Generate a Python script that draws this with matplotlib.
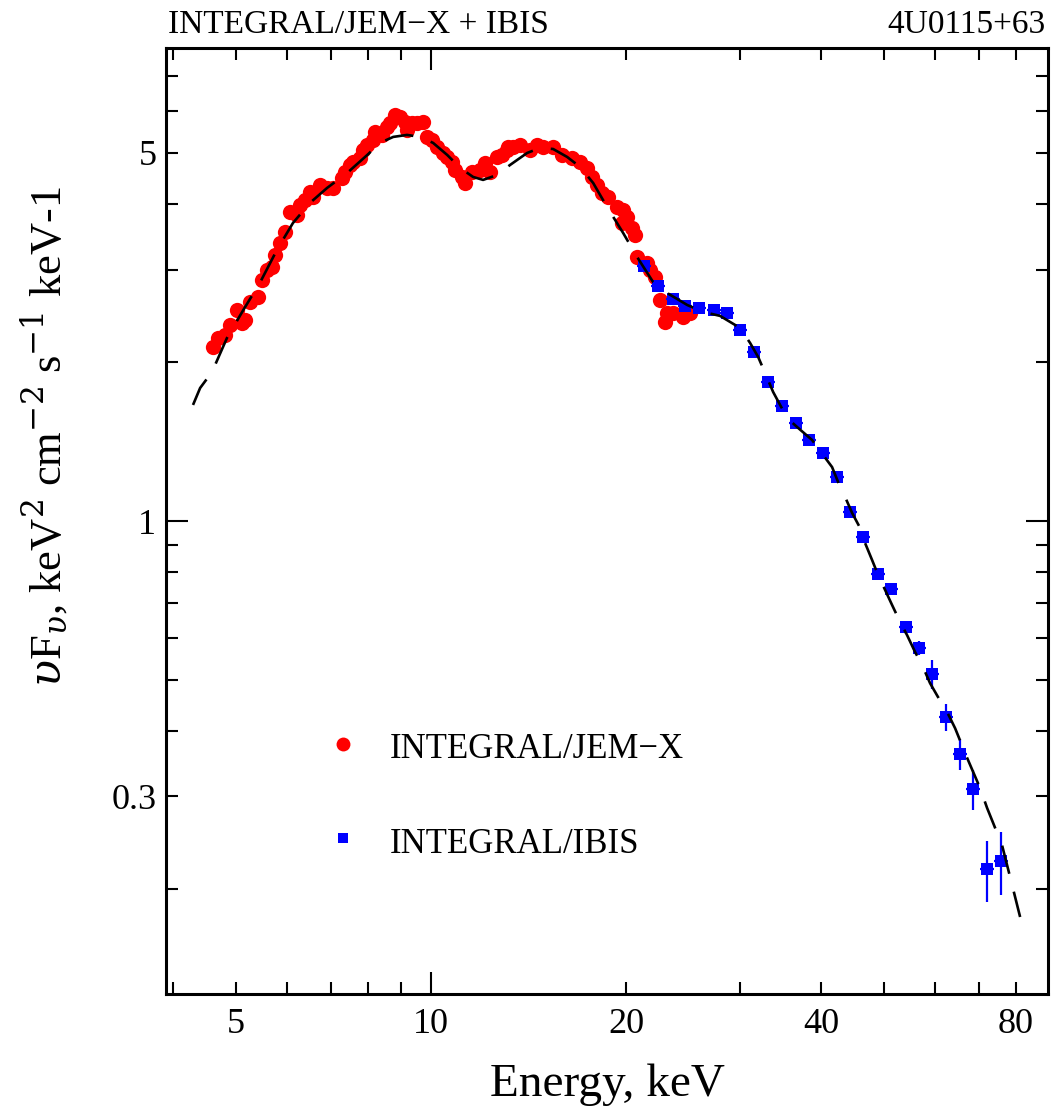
import numpy as np
import matplotlib
matplotlib.use('Agg')
import matplotlib.pyplot as plt
from matplotlib.ticker import FixedLocator, FixedFormatter, NullFormatter

plt.rcParams['font.family'] = ['Liberation Serif', 'DejaVu Serif']
plt.rcParams['mathtext.fontset'] = 'dejavuserif'

# JEM-X spectrum (keV, keV^2 cm^-2 s^-1 keV^-1)
jemx_e = np.array([4.612, 4.695, 4.808, 4.895, 5.012, 5.102, 5.162, 5.255, 5.412, 5.477,
                   5.575, 5.675, 5.742, 5.845, 5.950, 6.057, 6.203, 6.276, 6.389, 6.503,
                   6.580, 6.741, 6.902, 7.068, 7.281, 7.367, 7.499, 7.588, 7.770, 7.861,
                   7.955, 8.145, 8.196, 8.393, 8.543, 8.643, 8.799, 8.956, 9.118, 9.173,
                   9.337, 9.504, 9.730, 9.849, 10.03, 10.20, 10.45, 10.57, 10.76, 10.89,
                   11.15, 11.28, 11.56, 11.90, 12.12, 12.34, 12.63, 12.86, 13.16, 13.09,
                   13.40, 13.72, 14.22, 14.56, 14.91, 15.45, 15.92, 16.49, 16.98, 17.40,
                   17.71, 18.03, 18.35, 18.78, 19.35, 19.81, 20.05, 19.70, 20.41, 20.65,
                   20.78, 21.53, 21.79, 22.18, 22.57, 23.11, 23.66, 24.52, 25.11, 22.97])
jemx_f = np.array([2.144, 2.223, 2.256, 2.357, 2.516, 2.374, 2.409, 2.609, 2.667, 2.869,
                   2.998, 3.041, 3.200, 3.369, 3.544, 3.868, 3.813, 3.983, 4.071, 4.223,
                   4.130, 4.346, 4.283, 4.283, 4.475, 4.606, 4.745, 4.813, 4.886, 5.066,
                   5.178, 5.292, 5.489, 5.410, 5.610, 5.692, 5.904, 5.860, 5.734, 5.530,
                   5.692, 5.692, 5.734, 5.370, 5.292, 5.139, 4.993, 4.919, 4.813, 4.642,
                   4.508, 4.391, 4.606, 4.642, 4.780, 4.606, 4.919, 4.956, 5.139, 5.066,
                   5.139, 5.178, 5.066, 5.178, 5.139, 5.139, 4.956, 4.886, 4.813, 4.677,
                   4.508, 4.346, 4.193, 4.130, 3.954, 3.897, 3.785, 3.677, 3.597, 3.493,
                   3.177, 3.087, 2.998, 2.911, 2.629, 2.481, 2.481, 2.443, 2.481, 2.391])

# IBIS spectrum
ibis_e = np.array([21.3, 22.4, 23.6, 24.7, 25.9, 27.3, 28.6, 30.0, 31.5, 33.1, 34.8, 36.6,
                   38.3, 40.3, 42.3, 44.4, 46.5, 49.0, 51.3, 54.1, 56.7, 59.4, 62.4, 65.6,
                   68.7, 72.2, 75.9])
ibis_f = np.array([3.05, 2.80, 2.64, 2.56, 2.54, 2.52, 2.48, 2.31, 2.09, 1.84, 1.65, 1.535,
                   1.425, 1.346, 1.212, 1.040, 0.932, 0.793, 0.743, 0.629, 0.574, 0.512,
                   0.424, 0.361, 0.310, 0.218, 0.226])
ibis_ferr = np.array([0.04, 0.04, 0.035, 0.03, 0.03, 0.03, 0.03, 0.03, 0.025, 0.022, 0.02,
                      0.018, 0.017, 0.016, 0.015, 0.014, 0.013, 0.012, 0.012, 0.018, 0.017,
                      0.033, 0.025, 0.024, 0.027, 0.029, 0.031])
ibis_eerr = ibis_e * 0.025

# best-fit model curve
model_e = np.array([4.29, 4.40, 4.59, 4.84, 5.13, 5.45, 5.78, 6.12, 6.50, 6.91, 7.42, 7.97,
                    8.34, 8.74, 9.18, 9.62, 10.07, 10.59, 11.09, 11.61, 12.03, 12.64, 13.24,
                    14.07, 14.73, 15.43, 16.22, 16.98, 17.79, 18.69, 19.79, 20.80, 22.01,
                    23.14, 24.85, 26.30, 27.93, 29.99, 31.08, 31.98, 32.78, 33.73, 35.45,
                    36.87, 38.74, 40.28, 41.59, 42.49, 43.56, 44.66, 45.95, 46.77, 47.95,
                    48.98, 50.21, 51.48, 52.97, 54.30, 55.86, 57.27, 58.92, 60.62, 62.59,
                    64.41, 67.21, 70.39, 72.17, 73.73, 76.12, 78.88, 81.15])
model_f = np.array([1.661, 1.789, 1.919, 2.226, 2.516, 2.844, 3.271, 3.681, 4.018, 4.291,
                    4.581, 4.956, 5.225, 5.363, 5.410, 5.363, 5.225, 4.956, 4.682, 4.502,
                    4.444, 4.54, 4.744, 5.000, 5.109, 5.087, 4.913, 4.704, 4.385, 3.949,
                    3.524, 3.172, 2.844, 2.710, 2.572, 2.495, 2.452, 2.326, 2.178, 2.049,
                    1.910, 1.758, 1.569, 1.502, 1.425, 1.335, 1.266, 1.186, 1.111, 1.036,
                    0.970, 0.908, 0.843, 0.790, 0.740, 0.6925, 0.643, 0.607, 0.564, 0.533,
                    0.492, 0.463, 0.434, 0.404, 0.355, 0.311, 0.285, 0.267, 0.242, 0.2035,
                    0.177])

x_major = [10]
x_minor = [4, 5, 6, 7, 8, 9, 20, 30, 40, 50, 60, 70, 80]
x_minor_labels = ['', '5', '', '', '', '', '20', '', '40', '', '', '', '80']
y_major = [1]
y_minor = [0.2, 0.3, 0.4, 0.5, 0.6, 0.7, 0.8, 0.9, 2, 3, 4, 5, 6, 7]
y_minor_labels = ['', '0.3', '', '', '', '', '', '', '', '', '', '5', '', '']

fig = plt.figure(figsize=(10.59, 11.2), dpi=100)
ax = fig.add_axes([0.1568, 0.1125, 0.8328, 0.8446])
ax.set_xscale('log')
ax.set_yscale('log')
ax.set_xlim(3.898, 89.6)
ax.set_ylim(0.1264, 7.91)

ax.plot(jemx_e, jemx_f, 'o', color='#ff0000', ms=11, mew=0, zorder=2)
ax.errorbar(ibis_e, ibis_f, yerr=ibis_ferr, xerr=ibis_eerr, fmt='s', color='#0000ff',
            ms=8.5, mew=0, elinewidth=1.6, capsize=0, zorder=3)
ln, = ax.plot(model_e, model_f, color='black', lw=1.9, zorder=4)
ln.set_dashes((11, 7))

ax.xaxis.set_major_locator(FixedLocator(x_major))
ax.xaxis.set_major_formatter(FixedFormatter(['10']))
ax.xaxis.set_minor_locator(FixedLocator(x_minor))
ax.xaxis.set_minor_formatter(FixedFormatter(x_minor_labels))
ax.yaxis.set_major_locator(FixedLocator(y_major))
ax.yaxis.set_major_formatter(FixedFormatter(['1']))
ax.yaxis.set_minor_locator(FixedLocator(y_minor))
ax.yaxis.set_minor_formatter(FixedFormatter(y_minor_labels))

ax.tick_params(which='both', direction='in', top=True, right=True, labelsize=26, width=1.5)
ax.tick_params(which='major', length=16)
ax.tick_params(which='minor', length=8.5)
ax.tick_params(axis='x', which='both', pad=10)
ax.tick_params(axis='y', which='both', pad=7)
for s in ax.spines.values():
    s.set_linewidth(2.2)

# legend drawn by hand, PGPLOT style
ax.plot([0.2007], [0.2643], 'o', color='#ff0000', ms=10, mew=0, transform=ax.transAxes)
ax.plot([0.2007], [0.1649], 's', color='#0000ff', ms=7.5, mew=0, transform=ax.transAxes)
ax.text(0.254, 0.258, 'INTEGRAL/JEM\u2212X', transform=ax.transAxes, fontsize=25, va='center')
ax.text(0.254, 0.158, 'INTEGRAL/IBIS', transform=ax.transAxes, fontsize=25, va='center')

ax.set_xlabel('Energy, keV', fontsize=34, va='center')
ax.xaxis.set_label_coords(0.5, -0.0962)
ax.set_ylabel(r'$\upsilon$F$_\upsilon$, keV$^2$ cm$^{-2}$ s$^{-1}$ keV-1', fontsize=32, va='center')
ax.yaxis.set_label_coords(-0.137, 0.589)

fig.text(0.1586, 0.9777, 'INTEGRAL/JEM\u2212X + IBIS', fontsize=24, va='center', ha='left')
fig.text(0.9868, 0.9777, '4U0115+63', fontsize=24, va='center', ha='right')

fig.savefig('out.png', dpi=100)
